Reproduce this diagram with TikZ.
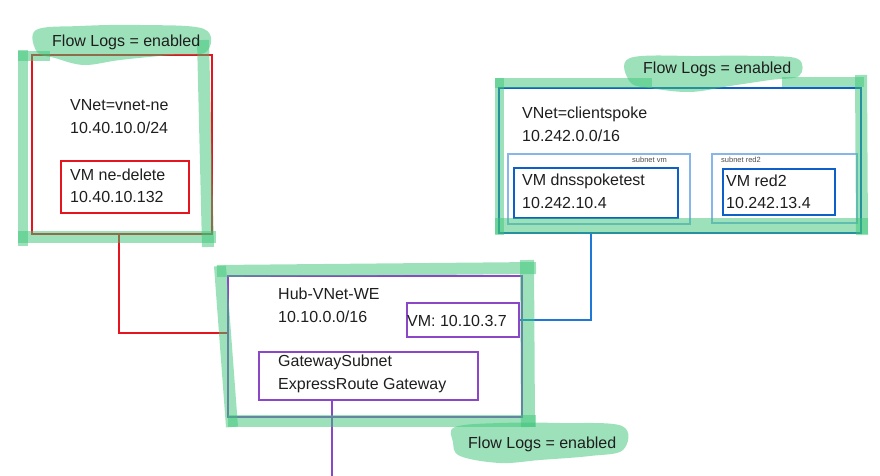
\documentclass[tikz,border=0pt]{standalone}
\usepackage{fontspec}
\setmainfont{Liberation Sans}
\definecolor{hl}{RGB}{60,196,120}
\definecolor{redc}{RGB}{230,20,30}
\definecolor{bluec}{RGB}{15,95,200}
\definecolor{lightbluec}{RGB}{85,150,225}
\definecolor{purplec}{RGB}{140,70,200}
\definecolor{linkblue}{RGB}{30,120,215}
\definecolor{txt}{RGB}{30,30,30}
\tikzset{
  hlstroke/.style={draw=hl, draw opacity=0.5, line cap=butt},
  hlblob/.style={fill=hl, fill opacity=0.5, draw=none},
  boxr/.style={draw=redc, line width=1.6pt, anchor=north west, inner sep=0pt},
  boxb/.style={draw=bluec, line width=1.6pt, anchor=north west, inner sep=0pt},
  boxlb/.style={draw=lightbluec, draw opacity=0.7, line width=1.6pt, anchor=north west, inner sep=0pt},
  boxp/.style={draw=purplec, line width=1.6pt, anchor=north west, inner sep=0pt},
  lbl/.style={anchor=base west, inner sep=0pt, text=txt, font=\fontsize{16}{19}\selectfont},
  small/.style={anchor=base west, inner sep=0pt, text=black!70, font=\fontsize{7.5}{9}\selectfont},
  redlink/.style={draw=redc, line width=1.8pt},
  bluelink/.style={draw=linkblue, line width=1.8pt},
  purplelink/.style={draw=purplec, line width=1.8pt},
}
\begin{document}
\begin{tikzpicture}[x=1pt,y=-1pt]
\useasboundingbox (0,0) rectangle (880,476);

% ---------- box VNet ne ----------
\node[boxr, minimum width=180pt, minimum height=179pt] (vne) at (31,54) {};
\node[boxr, minimum width=128pt, minimum height=52pt] (vmne) at (60,160) {};
\node[lbl] (t1) at (70,111) {VNet=vnet-ne};
\node[lbl] (t2) at (70,134) {10.40.10.0/24};
\node[lbl] (t3) at (70,180) {VM ne-delete};
\node[lbl] (t4) at (70,202) {10.40.10.132};

% ---------- box clientspoke ----------
\node[boxb, minimum width=362pt, minimum height=145pt] (cs) at (498,87) {};
\node[boxlb, minimum width=182pt, minimum height=70pt] (snvm) at (507,153) {};
\node[boxlb, minimum width=145pt, minimum height=69pt] (snred) at (711,153) {};
\node[boxb, minimum width=164pt, minimum height=50pt] (vmdns) at (513,167) {};
\node[boxb, minimum width=112pt, minimum height=46pt] (vmred) at (722,168) {};
\node[lbl] (t5) at (522,118) {VNet=clientspoke};
\node[lbl] (t6) at (522,141) {10.242.0.0/16};
\node[small] (t7) at (632,162) {subnet vm};
\node[small] (t8) at (721,162) {subnet red2};
\node[lbl] (t9) at (522,185) {VM dnsspoketest};
\node[lbl] (t10) at (522,208) {10.242.10.4};
\node[lbl] (t11) at (726,186) {VM red2};
\node[lbl] (t12) at (726,208) {10.242.13.4};

% ---------- hub ----------
\node[boxp, minimum width=294pt, minimum height=141pt] (hub) at (227,275) {};
\node[boxp, minimum width=112pt, minimum height=34pt] (vmhub) at (406,302) {};
\node[boxp, minimum width=219pt, minimum height=48pt] (gw) at (258,351) {};
\node[lbl] (t13) at (278,299) {Hub-VNet-WE};
\node[lbl] (t14) at (278,322) {10.10.0.0/16};
\node[lbl] (t15) at (407,326) {VM: 10.10.3.7};
\node[lbl] (t16) at (278,366) {GatewaySubnet};
\node[lbl] (t17) at (278,389) {ExpressRoute Gateway};

% ---------- connectors ----------
\draw[redlink] ([xshift=-3pt]vne.south) |- ([yshift=13pt]hub.west);
\draw[bluelink] (vmhub.east) -| ([xshift=-89pt]cs.south);
\coordinate (gwend) at (332,476);
\draw[purplelink] (gw.south -| gwend) -- (gwend);

% ---------- highlighter: box 1 ----------
\fill[hlblob] plot[smooth cycle, tension=0.6] coordinates {(36,30) (80,26) (140,25) (204,29) (206,52) (170,55) (120,60) (84,65) (55,58) (37,52)};
\draw[hlstroke, line width=10pt] (23,50) -- (23,246);
\draw[hlstroke, line width=10pt] (18,56) -- (50,56);
\draw[hlstroke, line width=12pt] (18,237) -- (216,237);
\draw[hlstroke, line width=12pt] (203,40) -- (208,247);

% ---------- highlighter: clientspoke ----------
\fill[hlblob] plot[smooth cycle, tension=0.6] coordinates {(630,58) (700,56) (760,56) (798,59) (799,76) (770,80) (730,86) (690,92) (650,88) (630,82)};
\draw[hlstroke, line width=9pt] (499,78) -- (499,235);
\draw[hlstroke, line width=10pt] (495,83) -- (652,83);
\draw[hlstroke, line width=10pt] (782,82) -- (864,82);
\draw[hlstroke, line width=16pt] (495,226) -- (868,226);
\draw[hlstroke, line width=12pt] (861,75) -- (862,235);

% ---------- highlighter: hub ----------
\fill[hlblob] plot[smooth cycle, tension=0.6] coordinates {(455,427) (500,423) (560,423) (622,426) (623,450) (590,456) (540,460) (500,463) (460,456) (453,442)};
\draw[hlstroke, line width=12pt] (217,271) -- (536,268);
\draw[hlstroke, line width=12pt] (220,266) -- (232,427);
\draw[hlstroke, line width=12pt] (228,421) -- (536,421);
\draw[hlstroke, line width=14pt] (527,260) -- (528,427);

% ---------- flow log labels ----------
\node[lbl] (f1) at (52,47) {Flow Logs = enabled};
\node[lbl] (f2) at (643,74) {Flow Logs = enabled};
\node[lbl] (f3) at (468,448) {Flow Logs = enabled};
\end{tikzpicture}
\end{document}
